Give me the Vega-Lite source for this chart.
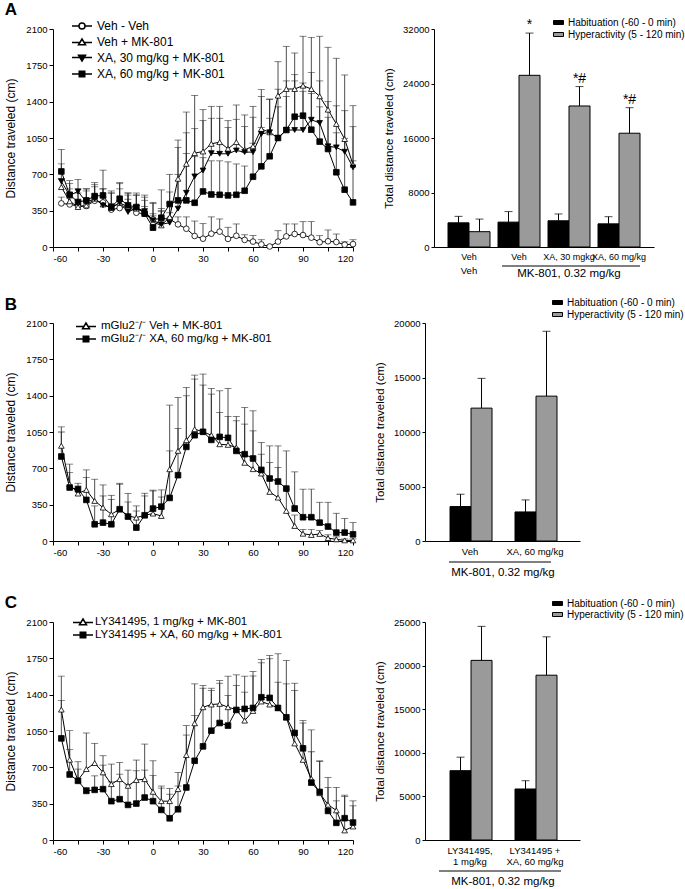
{
 "$schema": "https://vega.github.io/schema/vega-lite/v6.json",
 "background": "white",
 "padding": {"left": 4, "top": 1, "right": 0, "bottom": 0},
 "spacing": 16,
 "resolve": {"scale": {"shape": "independent", "fill": "independent"}},
 "config": {
  "view": {"stroke": null},
  "font": "Liberation Sans",
  "axis": {"domainColor": "black", "tickColor": "black", "labelColor": "black", "titleColor": "black", "labelFontSize": 9.5, "titleFontSize": 12, "titleFontWeight": "normal", "grid": false, "tickSize": 4, "labelPadding": 2, "domainWidth": 1, "tickWidth": 1, "format": "d"},
  "legend": {"labelColor": "black", "labelFont": "Liberation Sans", "labelLimit": 300},
  "title": {"color": "black"}
 },
 "datasets": {
  "lineA": [
   {"s":"Veh - Veh","t":-55,"v":420,"e":480},{"s":"Veh - Veh","t":-50,"v":410,"e":470},{"s":"Veh - Veh","t":-45,"v":395,"e":450},{"s":"Veh - Veh","t":-40,"v":395,"e":450},{"s":"Veh - Veh","t":-35,"v":445,"e":510},{"s":"Veh - Veh","t":-30,"v":430,"e":480},{"s":"Veh - Veh","t":-25,"v":360,"e":420},{"s":"Veh - Veh","t":-20,"v":375,"e":440},{"s":"Veh - Veh","t":-15,"v":395,"e":460},{"s":"Veh - Veh","t":-10,"v":330,"e":400},{"s":"Veh - Veh","t":-5,"v":320,"e":390},{"s":"Veh - Veh","t":0,"v":265,"e":320},{"s":"Veh - Veh","t":5,"v":275,"e":340},{"s":"Veh - Veh","t":10,"v":270,"e":330},{"s":"Veh - Veh","t":15,"v":218,"e":290},{"s":"Veh - Veh","t":20,"v":176,"e":290},{"s":"Veh - Veh","t":25,"v":106,"e":250},{"s":"Veh - Veh","t":30,"v":80,"e":225},{"s":"Veh - Veh","t":35,"v":128,"e":290},{"s":"Veh - Veh","t":40,"v":148,"e":270},{"s":"Veh - Veh","t":45,"v":78,"e":190},{"s":"Veh - Veh","t":50,"v":108,"e":222},{"s":"Veh - Veh","t":55,"v":68,"e":118},{"s":"Veh - Veh","t":60,"v":52,"e":110},{"s":"Veh - Veh","t":65,"v":25,"e":70},{"s":"Veh - Veh","t":70,"v":5,"e":10},{"s":"Veh - Veh","t":75,"v":52,"e":157},{"s":"Veh - Veh","t":80,"v":102,"e":222},{"s":"Veh - Veh","t":85,"v":125,"e":222},{"s":"Veh - Veh","t":90,"v":115,"e":244},{"s":"Veh - Veh","t":95,"v":90,"e":244},{"s":"Veh - Veh","t":100,"v":46,"e":109},{"s":"Veh - Veh","t":105,"v":55,"e":164},{"s":"Veh - Veh","t":110,"v":48,"e":125},{"s":"Veh - Veh","t":115,"v":22,"e":50},{"s":"Veh - Veh","t":120,"v":28,"e":70},
   {"s":"Veh + MK-801","t":-55,"v":577,"e":660},{"s":"Veh + MK-801","t":-50,"v":440,"e":560},{"s":"Veh + MK-801","t":-45,"v":385,"e":520},{"s":"Veh + MK-801","t":-40,"v":400,"e":540},{"s":"Veh + MK-801","t":-35,"v":465,"e":600},{"s":"Veh + MK-801","t":-30,"v":410,"e":560},{"s":"Veh + MK-801","t":-25,"v":375,"e":540},{"s":"Veh + MK-801","t":-20,"v":426,"e":560},{"s":"Veh + MK-801","t":-15,"v":385,"e":520},{"s":"Veh + MK-801","t":-10,"v":369,"e":500},{"s":"Veh + MK-801","t":-5,"v":337,"e":480},{"s":"Veh + MK-801","t":0,"v":240,"e":420},{"s":"Veh + MK-801","t":5,"v":208,"e":350},{"s":"Veh + MK-801","t":10,"v":289,"e":530},{"s":"Veh + MK-801","t":15,"v":657,"e":1030},{"s":"Veh + MK-801","t":20,"v":801,"e":1300},{"s":"Veh + MK-801","t":25,"v":904,"e":1460},{"s":"Veh + MK-801","t":30,"v":920,"e":1323},{"s":"Veh + MK-801","t":35,"v":994,"e":1355},{"s":"Veh + MK-801","t":40,"v":1010,"e":1355},{"s":"Veh + MK-801","t":45,"v":946,"e":1217},{"s":"Veh + MK-801","t":50,"v":1010,"e":1368},{"s":"Veh + MK-801","t":55,"v":936,"e":1272},{"s":"Veh + MK-801","t":60,"v":970,"e":1355},{"s":"Veh + MK-801","t":65,"v":1137,"e":1516},{"s":"Veh + MK-801","t":70,"v":1105,"e":1426},{"s":"Veh + MK-801","t":75,"v":1458,"e":1785},{"s":"Veh + MK-801","t":80,"v":1522,"e":1933},{"s":"Veh + MK-801","t":85,"v":1522,"e":1869},{"s":"Veh + MK-801","t":90,"v":1554,"e":2030},{"s":"Veh + MK-801","t":95,"v":1522,"e":2020},{"s":"Veh + MK-801","t":100,"v":1452,"e":2030},{"s":"Veh + MK-801","t":105,"v":1323,"e":1924},{"s":"Veh + MK-801","t":110,"v":1185,"e":1818},{"s":"Veh + MK-801","t":115,"v":1040,"e":1657},{"s":"Veh + MK-801","t":120,"v":793,"e":1361},
   {"s":"XA, 30 mg/kg + MK-801","t":-55,"v":632,"e":800},{"s":"XA, 30 mg/kg + MK-801","t":-50,"v":497,"e":610},{"s":"XA, 30 mg/kg + MK-801","t":-45,"v":535,"e":650},{"s":"XA, 30 mg/kg + MK-801","t":-40,"v":433,"e":560},{"s":"XA, 30 mg/kg + MK-801","t":-35,"v":465,"e":580},{"s":"XA, 30 mg/kg + MK-801","t":-30,"v":401,"e":560},{"s":"XA, 30 mg/kg + MK-801","t":-25,"v":382,"e":520},{"s":"XA, 30 mg/kg + MK-801","t":-20,"v":426,"e":610},{"s":"XA, 30 mg/kg + MK-801","t":-15,"v":337,"e":500},{"s":"XA, 30 mg/kg + MK-801","t":-10,"v":375,"e":520},{"s":"XA, 30 mg/kg + MK-801","t":-5,"v":346,"e":500},{"s":"XA, 30 mg/kg + MK-801","t":0,"v":256,"e":430},{"s":"XA, 30 mg/kg + MK-801","t":5,"v":218,"e":370},{"s":"XA, 30 mg/kg + MK-801","t":10,"v":234,"e":420},{"s":"XA, 30 mg/kg + MK-801","t":15,"v":369,"e":700},{"s":"XA, 30 mg/kg + MK-801","t":20,"v":522,"e":900},{"s":"XA, 30 mg/kg + MK-801","t":25,"v":680,"e":1140},{"s":"XA, 30 mg/kg + MK-801","t":30,"v":737,"e":1217},{"s":"XA, 30 mg/kg + MK-801","t":35,"v":904,"e":1240},{"s":"XA, 30 mg/kg + MK-801","t":40,"v":898,"e":1240},{"s":"XA, 30 mg/kg + MK-801","t":45,"v":898,"e":1150},{"s":"XA, 30 mg/kg + MK-801","t":50,"v":930,"e":1230},{"s":"XA, 30 mg/kg + MK-801","t":55,"v":914,"e":1160},{"s":"XA, 30 mg/kg + MK-801","t":60,"v":914,"e":1250},{"s":"XA, 30 mg/kg + MK-801","t":65,"v":1089,"e":1450},{"s":"XA, 30 mg/kg + MK-801","t":70,"v":1105,"e":1420},{"s":"XA, 30 mg/kg + MK-801","t":75,"v":1050,"e":1520},{"s":"XA, 30 mg/kg + MK-801","t":80,"v":1127,"e":1600},{"s":"XA, 30 mg/kg + MK-801","t":85,"v":1127,"e":1660},{"s":"XA, 30 mg/kg + MK-801","t":90,"v":1127,"e":1580},{"s":"XA, 30 mg/kg + MK-801","t":95,"v":1226,"e":1680},{"s":"XA, 30 mg/kg + MK-801","t":100,"v":1195,"e":1600},{"s":"XA, 30 mg/kg + MK-801","t":105,"v":970,"e":1400},{"s":"XA, 30 mg/kg + MK-801","t":110,"v":960,"e":1360},{"s":"XA, 30 mg/kg + MK-801","t":115,"v":918,"e":1313},{"s":"XA, 30 mg/kg + MK-801","t":120,"v":767,"e":1159},
   {"s":"XA, 60 mg/kg + MK-801","t":-55,"v":728,"e":940},{"s":"XA, 60 mg/kg + MK-801","t":-50,"v":503,"e":640},{"s":"XA, 60 mg/kg + MK-801","t":-45,"v":433,"e":560},{"s":"XA, 60 mg/kg + MK-801","t":-40,"v":449,"e":560},{"s":"XA, 60 mg/kg + MK-801","t":-35,"v":490,"e":620},{"s":"XA, 60 mg/kg + MK-801","t":-30,"v":497,"e":740},{"s":"XA, 60 mg/kg + MK-801","t":-25,"v":385,"e":520},{"s":"XA, 60 mg/kg + MK-801","t":-20,"v":465,"e":620},{"s":"XA, 60 mg/kg + MK-801","t":-15,"v":401,"e":520},{"s":"XA, 60 mg/kg + MK-801","t":-10,"v":385,"e":500},{"s":"XA, 60 mg/kg + MK-801","t":-5,"v":321,"e":450},{"s":"XA, 60 mg/kg + MK-801","t":0,"v":186,"e":300},{"s":"XA, 60 mg/kg + MK-801","t":5,"v":282,"e":550},{"s":"XA, 60 mg/kg + MK-801","t":10,"v":414,"e":700},{"s":"XA, 60 mg/kg + MK-801","t":15,"v":449,"e":960},{"s":"XA, 60 mg/kg + MK-801","t":20,"v":449,"e":1100},{"s":"XA, 60 mg/kg + MK-801","t":25,"v":426,"e":870},{"s":"XA, 60 mg/kg + MK-801","t":30,"v":535,"e":860},{"s":"XA, 60 mg/kg + MK-801","t":35,"v":506,"e":830},{"s":"XA, 60 mg/kg + MK-801","t":40,"v":503,"e":830},{"s":"XA, 60 mg/kg + MK-801","t":45,"v":497,"e":820},{"s":"XA, 60 mg/kg + MK-801","t":50,"v":503,"e":800},{"s":"XA, 60 mg/kg + MK-801","t":55,"v":542,"e":780},{"s":"XA, 60 mg/kg + MK-801","t":60,"v":677,"e":1000},{"s":"XA, 60 mg/kg + MK-801","t":65,"v":777,"e":1150},{"s":"XA, 60 mg/kg + MK-801","t":70,"v":874,"e":1240},{"s":"XA, 60 mg/kg + MK-801","t":75,"v":1050,"e":1350},{"s":"XA, 60 mg/kg + MK-801","t":80,"v":1127,"e":1450},{"s":"XA, 60 mg/kg + MK-801","t":85,"v":1255,"e":1600},{"s":"XA, 60 mg/kg + MK-801","t":90,"v":1265,"e":1500},{"s":"XA, 60 mg/kg + MK-801","t":95,"v":1130,"e":1480},{"s":"XA, 60 mg/kg + MK-801","t":100,"v":1015,"e":1350},{"s":"XA, 60 mg/kg + MK-801","t":105,"v":944,"e":1250},{"s":"XA, 60 mg/kg + MK-801","t":110,"v":720,"e":1100},{"s":"XA, 60 mg/kg + MK-801","t":115,"v":552,"e":1047},{"s":"XA, 60 mg/kg + MK-801","t":120,"v":430,"e":830}
  ],
  "lineB": [
   {"s":"mGlu2⁻/⁻ Veh + MK-801","t":-55,"v":917,"e":1100},{"s":"mGlu2⁻/⁻ Veh + MK-801","t":-50,"v":547,"e":740},{"s":"mGlu2⁻/⁻ Veh + MK-801","t":-45,"v":457,"e":556},{"s":"mGlu2⁻/⁻ Veh + MK-801","t":-40,"v":492,"e":685},{"s":"mGlu2⁻/⁻ Veh + MK-801","t":-35,"v":386,"e":595},{"s":"mGlu2⁻/⁻ Veh + MK-801","t":-30,"v":322,"e":540},{"s":"mGlu2⁻/⁻ Veh + MK-801","t":-25,"v":257,"e":440},{"s":"mGlu2⁻/⁻ Veh + MK-801","t":-20,"v":306,"e":556},{"s":"mGlu2⁻/⁻ Veh + MK-801","t":-15,"v":241,"e":457},{"s":"mGlu2⁻/⁻ Veh + MK-801","t":-10,"v":225,"e":338},{"s":"mGlu2⁻/⁻ Veh + MK-801","t":-5,"v":248,"e":460},{"s":"mGlu2⁻/⁻ Veh + MK-801","t":0,"v":264,"e":482},{"s":"mGlu2⁻/⁻ Veh + MK-801","t":5,"v":241,"e":492},{"s":"mGlu2⁻/⁻ Veh + MK-801","t":10,"v":691,"e":1309},{"s":"mGlu2⁻/⁻ Veh + MK-801","t":15,"v":868,"e":1383},{"s":"mGlu2⁻/⁻ Veh + MK-801","t":20,"v":971,"e":1479},{"s":"mGlu2⁻/⁻ Veh + MK-801","t":25,"v":1077,"e":1598},{"s":"mGlu2⁻/⁻ Veh + MK-801","t":30,"v":1052,"e":1502},{"s":"mGlu2⁻/⁻ Veh + MK-801","t":35,"v":1019,"e":1415},{"s":"mGlu2⁻/⁻ Veh + MK-801","t":40,"v":932,"e":1238},{"s":"mGlu2⁻/⁻ Veh + MK-801","t":45,"v":926,"e":1200},{"s":"mGlu2⁻/⁻ Veh + MK-801","t":50,"v":900,"e":1200},{"s":"mGlu2⁻/⁻ Veh + MK-801","t":55,"v":753,"e":1126},{"s":"mGlu2⁻/⁻ Veh + MK-801","t":60,"v":692,"e":1061},{"s":"mGlu2⁻/⁻ Veh + MK-801","t":65,"v":650,"e":836},{"s":"mGlu2⁻/⁻ Veh + MK-801","t":70,"v":473,"e":756},{"s":"mGlu2⁻/⁻ Veh + MK-801","t":75,"v":418,"e":708},{"s":"mGlu2⁻/⁻ Veh + MK-801","t":80,"v":290,"e":500},{"s":"mGlu2⁻/⁻ Veh + MK-801","t":85,"v":145,"e":250},{"s":"mGlu2⁻/⁻ Veh + MK-801","t":90,"v":70,"e":112},{"s":"mGlu2⁻/⁻ Veh + MK-801","t":95,"v":58,"e":112},{"s":"mGlu2⁻/⁻ Veh + MK-801","t":100,"v":68,"e":100},{"s":"mGlu2⁻/⁻ Veh + MK-801","t":105,"v":28,"e":60},{"s":"mGlu2⁻/⁻ Veh + MK-801","t":110,"v":16,"e":40},{"s":"mGlu2⁻/⁻ Veh + MK-801","t":115,"v":6,"e":20},{"s":"mGlu2⁻/⁻ Veh + MK-801","t":120,"v":6,"e":20},
   {"s":"mGlu2⁻/⁻ XA, 60 mg/kg + MK-801","t":-55,"v":814,"e":1050},{"s":"mGlu2⁻/⁻ XA, 60 mg/kg + MK-801","t":-50,"v":515,"e":659},{"s":"mGlu2⁻/⁻ XA, 60 mg/kg + MK-801","t":-45,"v":498,"e":530},{"s":"mGlu2⁻/⁻ XA, 60 mg/kg + MK-801","t":-40,"v":396,"e":611},{"s":"mGlu2⁻/⁻ XA, 60 mg/kg + MK-801","t":-35,"v":161,"e":338},{"s":"mGlu2⁻/⁻ XA, 60 mg/kg + MK-801","t":-30,"v":177,"e":434},{"s":"mGlu2⁻/⁻ XA, 60 mg/kg + MK-801","t":-25,"v":161,"e":400},{"s":"mGlu2⁻/⁻ XA, 60 mg/kg + MK-801","t":-20,"v":306,"e":547},{"s":"mGlu2⁻/⁻ XA, 60 mg/kg + MK-801","t":-15,"v":235,"e":376},{"s":"mGlu2⁻/⁻ XA, 60 mg/kg + MK-801","t":-10,"v":129,"e":289},{"s":"mGlu2⁻/⁻ XA, 60 mg/kg + MK-801","t":-5,"v":248,"e":434},{"s":"mGlu2⁻/⁻ XA, 60 mg/kg + MK-801","t":0,"v":312,"e":490},{"s":"mGlu2⁻/⁻ XA, 60 mg/kg + MK-801","t":5,"v":331,"e":424},{"s":"mGlu2⁻/⁻ XA, 60 mg/kg + MK-801","t":10,"v":415,"e":868},{"s":"mGlu2⁻/⁻ XA, 60 mg/kg + MK-801","t":15,"v":634,"e":1084},{"s":"mGlu2⁻/⁻ XA, 60 mg/kg + MK-801","t":20,"v":907,"e":1399},{"s":"mGlu2⁻/⁻ XA, 60 mg/kg + MK-801","t":25,"v":1019,"e":1560},{"s":"mGlu2⁻/⁻ XA, 60 mg/kg + MK-801","t":30,"v":1052,"e":1608},{"s":"mGlu2⁻/⁻ XA, 60 mg/kg + MK-801","t":35,"v":974,"e":1470},{"s":"mGlu2⁻/⁻ XA, 60 mg/kg + MK-801","t":40,"v":1003,"e":1447},{"s":"mGlu2⁻/⁻ XA, 60 mg/kg + MK-801","t":45,"v":994,"e":1470},{"s":"mGlu2⁻/⁻ XA, 60 mg/kg + MK-801","t":50,"v":868,"e":1158},{"s":"mGlu2⁻/⁻ XA, 60 mg/kg + MK-801","t":55,"v":836,"e":1287},{"s":"mGlu2⁻/⁻ XA, 60 mg/kg + MK-801","t":60,"v":795,"e":1254},{"s":"mGlu2⁻/⁻ XA, 60 mg/kg + MK-801","t":65,"v":685,"e":949},{"s":"mGlu2⁻/⁻ XA, 60 mg/kg + MK-801","t":70,"v":602,"e":916},{"s":"mGlu2⁻/⁻ XA, 60 mg/kg + MK-801","t":75,"v":573,"e":916},{"s":"mGlu2⁻/⁻ XA, 60 mg/kg + MK-801","t":80,"v":505,"e":868},{"s":"mGlu2⁻/⁻ XA, 60 mg/kg + MK-801","t":85,"v":313,"e":666},{"s":"mGlu2⁻/⁻ XA, 60 mg/kg + MK-801","t":90,"v":229,"e":499},{"s":"mGlu2⁻/⁻ XA, 60 mg/kg + MK-801","t":95,"v":229,"e":499},{"s":"mGlu2⁻/⁻ XA, 60 mg/kg + MK-801","t":100,"v":177,"e":373},{"s":"mGlu2⁻/⁻ XA, 60 mg/kg + MK-801","t":105,"v":139,"e":373},{"s":"mGlu2⁻/⁻ XA, 60 mg/kg + MK-801","t":110,"v":81,"e":267},{"s":"mGlu2⁻/⁻ XA, 60 mg/kg + MK-801","t":115,"v":81,"e":216},{"s":"mGlu2⁻/⁻ XA, 60 mg/kg + MK-801","t":120,"v":64,"e":177}
  ],
  "lineC": [
   {"s":"LY341495, 1 mg/kg + MK-801","t":-55,"v":1256,"e":1578},{"s":"LY341495, 1 mg/kg + MK-801","t":-50,"v":773,"e":1053},{"s":"LY341495, 1 mg/kg + MK-801","t":-45,"v":577,"e":754},{"s":"LY341495, 1 mg/kg + MK-801","t":-40,"v":683,"e":1031},{"s":"LY341495, 1 mg/kg + MK-801","t":-35,"v":741,"e":931},{"s":"LY341495, 1 mg/kg + MK-801","t":-30,"v":651,"e":812},{"s":"LY341495, 1 mg/kg + MK-801","t":-25,"v":538,"e":731},{"s":"LY341495, 1 mg/kg + MK-801","t":-20,"v":586,"e":747},{"s":"LY341495, 1 mg/kg + MK-801","t":-15,"v":522,"e":673},{"s":"LY341495, 1 mg/kg + MK-801","t":-10,"v":577,"e":770},{"s":"LY341495, 1 mg/kg + MK-801","t":-5,"v":586,"e":924},{"s":"LY341495, 1 mg/kg + MK-801","t":0,"v":464,"e":763},{"s":"LY341495, 1 mg/kg + MK-801","t":5,"v":374,"e":520},{"s":"LY341495, 1 mg/kg + MK-801","t":10,"v":374,"e":441},{"s":"LY341495, 1 mg/kg + MK-801","t":15,"v":490,"e":651},{"s":"LY341495, 1 mg/kg + MK-801","t":20,"v":818,"e":1102},{"s":"LY341495, 1 mg/kg + MK-801","t":25,"v":1124,"e":1504},{"s":"LY341495, 1 mg/kg + MK-801","t":30,"v":1279,"e":1488},{"s":"LY341495, 1 mg/kg + MK-801","t":35,"v":1305,"e":1462},{"s":"LY341495, 1 mg/kg + MK-801","t":40,"v":1311,"e":1536},{"s":"LY341495, 1 mg/kg + MK-801","t":45,"v":1279,"e":1578},{"s":"LY341495, 1 mg/kg + MK-801","t":50,"v":1256,"e":1591},{"s":"LY341495, 1 mg/kg + MK-801","t":55,"v":1150,"e":1578},{"s":"LY341495, 1 mg/kg + MK-801","t":60,"v":1243,"e":1623},{"s":"LY341495, 1 mg/kg + MK-801","t":65,"v":1334,"e":1739},{"s":"LY341495, 1 mg/kg + MK-801","t":70,"v":1305,"e":1778},{"s":"LY341495, 1 mg/kg + MK-801","t":75,"v":1272,"e":1794},{"s":"LY341495, 1 mg/kg + MK-801","t":80,"v":1182,"e":1730},{"s":"LY341495, 1 mg/kg + MK-801","t":85,"v":930,"e":1510},{"s":"LY341495, 1 mg/kg + MK-801","t":90,"v":772,"e":1150},{"s":"LY341495, 1 mg/kg + MK-801","t":95,"v":590,"e":850},{"s":"LY341495, 1 mg/kg + MK-801","t":100,"v":451,"e":757},{"s":"LY341495, 1 mg/kg + MK-801","t":105,"v":340,"e":602},{"s":"LY341495, 1 mg/kg + MK-801","t":110,"v":285,"e":506},{"s":"LY341495, 1 mg/kg + MK-801","t":115,"v":92,"e":432},{"s":"LY341495, 1 mg/kg + MK-801","t":120,"v":130,"e":329},
   {"s":"LY341495 + XA, 60 mg/kg + MK-801","t":-55,"v":979,"e":1343},{"s":"LY341495 + XA, 60 mg/kg + MK-801","t":-50,"v":631,"e":870},{"s":"LY341495 + XA, 60 mg/kg + MK-801","t":-45,"v":570,"e":683},{"s":"LY341495 + XA, 60 mg/kg + MK-801","t":-40,"v":473,"e":506},{"s":"LY341495 + XA, 60 mg/kg + MK-801","t":-35,"v":483,"e":618},{"s":"LY341495 + XA, 60 mg/kg + MK-801","t":-30,"v":490,"e":721},{"s":"LY341495 + XA, 60 mg/kg + MK-801","t":-25,"v":374,"e":560},{"s":"LY341495 + XA, 60 mg/kg + MK-801","t":-20,"v":393,"e":634},{"s":"LY341495 + XA, 60 mg/kg + MK-801","t":-15,"v":338,"e":530},{"s":"LY341495 + XA, 60 mg/kg + MK-801","t":-10,"v":351,"e":667},{"s":"LY341495 + XA, 60 mg/kg + MK-801","t":-5,"v":409,"e":673},{"s":"LY341495 + XA, 60 mg/kg + MK-801","t":0,"v":374,"e":620},{"s":"LY341495 + XA, 60 mg/kg + MK-801","t":5,"v":290,"e":500},{"s":"LY341495 + XA, 60 mg/kg + MK-801","t":10,"v":209,"e":496},{"s":"LY341495 + XA, 60 mg/kg + MK-801","t":15,"v":296,"e":520},{"s":"LY341495 + XA, 60 mg/kg + MK-801","t":20,"v":506,"e":1011},{"s":"LY341495 + XA, 60 mg/kg + MK-801","t":25,"v":763,"e":1200},{"s":"LY341495 + XA, 60 mg/kg + MK-801","t":30,"v":902,"e":1462},{"s":"LY341495 + XA, 60 mg/kg + MK-801","t":35,"v":1053,"e":1440},{"s":"LY341495 + XA, 60 mg/kg + MK-801","t":40,"v":1127,"e":1510},{"s":"LY341495 + XA, 60 mg/kg + MK-801","t":45,"v":1102,"e":1391},{"s":"LY341495 + XA, 60 mg/kg + MK-801","t":50,"v":1253,"e":1488},{"s":"LY341495 + XA, 60 mg/kg + MK-801","t":55,"v":1263,"e":1424},{"s":"LY341495 + XA, 60 mg/kg + MK-801","t":60,"v":1272,"e":1580},{"s":"LY341495 + XA, 60 mg/kg + MK-801","t":65,"v":1375,"e":1707},{"s":"LY341495 + XA, 60 mg/kg + MK-801","t":70,"v":1369,"e":1746},{"s":"LY341495 + XA, 60 mg/kg + MK-801","t":75,"v":1272,"e":1520},{"s":"LY341495 + XA, 60 mg/kg + MK-801","t":80,"v":1182,"e":1504},{"s":"LY341495 + XA, 60 mg/kg + MK-801","t":85,"v":1031,"e":1440},{"s":"LY341495 + XA, 60 mg/kg + MK-801","t":90,"v":883,"e":1127},{"s":"LY341495 + XA, 60 mg/kg + MK-801","t":95,"v":553,"e":1060},{"s":"LY341495 + XA, 60 mg/kg + MK-801","t":100,"v":463,"e":763},{"s":"LY341495 + XA, 60 mg/kg + MK-801","t":105,"v":280,"e":506},{"s":"LY341495 + XA, 60 mg/kg + MK-801","t":110,"v":165,"e":377},{"s":"LY341495 + XA, 60 mg/kg + MK-801","t":115,"v":210,"e":420},{"s":"LY341495 + XA, 60 mg/kg + MK-801","t":120,"v":168,"e":377}
  ],
  "barA": [
   {"g":"g1","p":"Habituation (-60 - 0 min)","v":3550,"e":4500,"sig":""},{"g":"g1","p":"Hyperactivity (5 - 120 min)","v":2250,"e":4100,"sig":""},
   {"g":"g2","p":"Habituation (-60 - 0 min)","v":3650,"e":5200,"sig":""},{"g":"g2","p":"Hyperactivity (5 - 120 min)","v":25200,"e":31400,"sig":"*"},
   {"g":"g3","p":"Habituation (-60 - 0 min)","v":3850,"e":4850,"sig":""},{"g":"g3","p":"Hyperactivity (5 - 120 min)","v":20700,"e":23550,"sig":"*#"},
   {"g":"g4","p":"Habituation (-60 - 0 min)","v":3400,"e":4450,"sig":""},{"g":"g4","p":"Hyperactivity (5 - 120 min)","v":16700,"e":20450,"sig":"*#"}
  ],
  "barB": [
   {"g":"g1","p":"Habituation (-60 - 0 min)","v":3160,"e":4290},{"g":"g1","p":"Hyperactivity (5 - 120 min)","v":12190,"e":14920},
   {"g":"g2","p":"Habituation (-60 - 0 min)","v":2665,"e":3770},{"g":"g2","p":"Hyperactivity (5 - 120 min)","v":13290,"e":19240}
  ],
  "barC": [
   {"g":"g1","p":"Habituation (-60 - 0 min)","v":7950,"e":9500},{"g":"g1","p":"Hyperactivity (5 - 120 min)","v":20600,"e":24500},
   {"g":"g2","p":"Habituation (-60 - 0 min)","v":5850,"e":6800},{"g":"g2","p":"Hyperactivity (5 - 120 min)","v":18900,"e":23300}
  ],
  "labA2": [{"g":"g1","txt":"Veh"}],
  "labA3": [{"g":"g3","txt":"MK-801, 0.32 mg/kg"}],
  "lineSpanA": [{"g":"g2","g2":"g4"}],
  "lineSpanBC": [{"g":"g1","g2":"g2"}]
 },
 "vconcat": [
  {
   "spacing": 25,
   "resolve": {"scale": {"shape": "independent", "fill": "independent"}},
   "hconcat": [
    {
     "width": 300, "height": 218,
     "title": {"text": "A", "anchor": "start", "frame": "bounds", "fontSize": 17, "fontWeight": "bold", "offset": 1},
     "data": {"name": "lineA"},
     "resolve": {"scale": {"shape": "independent", "fill": "independent"}},
     "encoding": {
      "x": {"field": "t", "type": "quantitative", "scale": {"domain": [-60, 120], "nice": false}, "axis": {"values": [-60,-45,-30,-15,0,15,30,45,60,75,90,105,120], "labelExpr": "datum.value % 30 == 0 ? '' + datum.value : ''", "title": null}},
      "y": {"field": "v", "type": "quantitative", "scale": {"domain": [0, 2100], "nice": false}, "axis": {"values": [0,350,700,1050,1400,1750,2100], "title": "Distance traveled (cm)", "titlePadding": 8}}
     },
     "layer": [
      {"mark": {"type": "rule", "color": "#222", "strokeWidth": 0.8}, "encoding": {"y2": {"field": "e"}}},
      {"mark": {"type": "tick", "orient": "horizontal", "size": 7, "thickness": 0.8, "color": "#222"}, "encoding": {"y": {"field": "e", "type": "quantitative"}}},
      {"mark": {"type": "line", "color": "black", "strokeWidth": 1}, "encoding": {"detail": {"field": "s"}}},
      {"mark": {"type": "point", "filled": true, "stroke": "black", "strokeWidth": 0.8, "opacity": 1, "size": 32},
       "encoding": {
        "shape": {"field": "s", "type": "nominal", "scale": {"domain": ["Veh - Veh","Veh + MK-801","XA, 30 mg/kg + MK-801","XA, 60 mg/kg + MK-801"], "range": ["circle","triangle-up","triangle-down","square"]}, "legend": null},
        "fill": {"field": "s", "type": "nominal", "scale": {"domain": ["Veh - Veh","Veh + MK-801","XA, 30 mg/kg + MK-801","XA, 60 mg/kg + MK-801"], "range": ["white","white","black","black"]}, "legend": null}
       }},
      {"transform": [{"filter": "false"}], "mark": {"type": "point", "filled": true, "stroke": "black", "strokeWidth": 0.8, "opacity": 1},
       "encoding": {
        "shape": {"field": "s", "type": "nominal", "scale": {"domain": ["Veh - Veh","Veh + MK-801","XA, 30 mg/kg + MK-801","XA, 60 mg/kg + MK-801"], "range": ["M-2,0L-0.6,0M0.6,0L2,0M-0.6,0A0.6,0.6 0 1,1 0.6,0A0.6,0.6 0 1,1 -0.6,0Z","M-2,0.1L-0.45,0.1M0.45,0.1L2,0.1M0,-0.6L0.7,0.55L-0.7,0.55Z","M-2,-0.1L-0.45,-0.1M0.45,-0.1L2,-0.1M0,0.6L0.7,-0.55L-0.7,-0.55Z","M-2,0L-0.55,0M0.55,0L2,0M-0.55,-0.55L0.55,-0.55L0.55,0.55L-0.55,0.55Z"]}, "legend": {"title": null, "orient": "none", "legendX": 23, "legendY": -9, "labelFontSize": 12, "symbolSize": 100, "rowPadding": 4, "labelOffset": 9, "encode": {"symbols": {"update": {"stroke": {"value": "black"}, "strokeWidth": {"value": 0.8}, "opacity": {"value": 1}}}}}},
        "fill": {"field": "s", "type": "nominal", "scale": {"domain": ["Veh - Veh","Veh + MK-801","XA, 30 mg/kg + MK-801","XA, 60 mg/kg + MK-801"], "range": ["white","white","black","black"]}, "legend": {"title": null, "orient": "none", "legendX": 23, "legendY": -9, "labelFontSize": 12, "symbolSize": 100, "rowPadding": 4, "labelOffset": 9, "encode": {"symbols": {"update": {"stroke": {"value": "black"}, "strokeWidth": {"value": 0.8}, "opacity": {"value": 1}}}}}}
       }}
     ]
    },
    {
     "width": 220, "height": 218,
     "layer": [
      {"data": {"name": "barA"}, "mark": {"type": "bar", "stroke": "black", "strokeWidth": 1},
       "encoding": {
        "x": {"field": "g", "type": "nominal", "scale": {"domain": ["g1","g2","g3","g4"], "paddingInner": 0.16, "paddingOuter": 0.28}, "axis": {"title": null, "ticks": false, "labelAngle": 0, "labelPadding": 5, "labelFontSize": 9, "labelOverlap": false, "labelExpr": "datum.value == 'g1' ? 'Veh' : datum.value == 'g2' ? 'Veh' : datum.value == 'g3' ? 'XA, 30 mgkg' : 'XA, 60 mg/kg'"}},
        "xOffset": {"field": "p", "type": "nominal", "scale": {"paddingInner": 0, "paddingOuter": 0}},
        "y": {"field": "v", "type": "quantitative", "scale": {"domain": [0, 32000], "nice": false}, "axis": {"values": [0,8000,16000,24000,32000], "title": "Total distance traveled (cm)", "titleFontSize": 11.5, "titlePadding": 8, "tickSize": 3}},
        "fill": {"field": "p", "type": "nominal", "scale": {"range": ["black", "#9a9a9a"]}, "legend": {"title": null, "orient": "none", "legendX": 119, "legendY": -12, "labelFontSize": 10, "symbolType": "M-1,-0.4L1,-0.4L1,0.4L-1,0.4Z", "symbolSize": 100, "symbolStrokeColor": "black", "symbolStrokeWidth": 1, "rowPadding": 1, "labelOffset": 4}}
       }},
      {"data": {"name": "barA"}, "mark": {"type": "rule", "color": "black", "strokeWidth": 1},
       "encoding": {"x": {"field": "g", "type": "nominal"}, "xOffset": {"field": "p", "type": "nominal"}, "y": {"field": "v", "type": "quantitative"}, "y2": {"field": "e"}}},
      {"data": {"name": "barA"}, "mark": {"type": "tick", "orient": "horizontal", "size": 8, "thickness": 1, "color": "black"},
       "encoding": {"x": {"field": "g", "type": "nominal"}, "xOffset": {"field": "p", "type": "nominal"}, "y": {"field": "e", "type": "quantitative"}}},
      {"data": {"name": "barA"}, "mark": {"type": "text", "dy": -8, "fontSize": 14, "color": "black"},
       "encoding": {"x": {"field": "g", "type": "nominal"}, "xOffset": {"field": "p", "type": "nominal"}, "y": {"field": "e", "type": "quantitative"}, "text": {"field": "sig"}}},
      {"data": {"name": "labA2"}, "mark": {"type": "text", "dy": 24, "fontSize": 9.5, "color": "black", "baseline": "middle"},
       "encoding": {"x": {"field": "g", "type": "nominal"}, "y": {"datum": 0}, "text": {"field": "txt"}}},
      {"data": {"name": "labA3"}, "mark": {"type": "text", "dy": 27, "fontSize": 11.5, "color": "black", "baseline": "middle"},
       "encoding": {"x": {"field": "g", "type": "nominal"}, "y": {"datum": 0}, "text": {"field": "txt"}}},
      {"data": {"name": "lineSpanA"}, "mark": {"type": "rule", "color": "black", "strokeWidth": 1, "yOffset": 19, "xOffset": -17, "x2Offset": 21},
       "encoding": {"x": {"field": "g", "type": "nominal"}, "x2": {"field": "g2"}, "y": {"datum": 0}}}
     ]
    }
   ]
  },
  {
   "spacing": 16,
   "resolve": {"scale": {"shape": "independent", "fill": "independent"}},
   "hconcat": [
    {
     "width": 300, "height": 218,
     "title": {"text": "B", "anchor": "start", "frame": "bounds", "fontSize": 17, "fontWeight": "bold", "offset": 4},
     "data": {"name": "lineB"},
     "resolve": {"scale": {"shape": "independent", "fill": "independent"}},
     "encoding": {
      "x": {"field": "t", "type": "quantitative", "scale": {"domain": [-60, 120], "nice": false}, "axis": {"values": [-60,-45,-30,-15,0,15,30,45,60,75,90,105,120], "labelExpr": "datum.value % 30 == 0 ? '' + datum.value : ''", "title": null}},
      "y": {"field": "v", "type": "quantitative", "scale": {"domain": [0, 2100], "nice": false}, "axis": {"values": [0,350,700,1050,1400,1750,2100], "title": "Distance traveled (cm)", "titlePadding": 8}}
     },
     "layer": [
      {"mark": {"type": "rule", "color": "#222", "strokeWidth": 0.8}, "encoding": {"y2": {"field": "e"}}},
      {"mark": {"type": "tick", "orient": "horizontal", "size": 7, "thickness": 0.8, "color": "#222"}, "encoding": {"y": {"field": "e", "type": "quantitative"}}},
      {"mark": {"type": "line", "color": "black", "strokeWidth": 1}, "encoding": {"detail": {"field": "s"}}},
      {"mark": {"type": "point", "filled": true, "stroke": "black", "strokeWidth": 0.8, "opacity": 1, "size": 32},
       "encoding": {
        "shape": {"field": "s", "type": "nominal", "scale": {"domain": ["mGlu2⁻/⁻ Veh + MK-801","mGlu2⁻/⁻ XA, 60 mg/kg + MK-801"], "range": ["triangle-up","square"]}, "legend": null},
        "fill": {"field": "s", "type": "nominal", "scale": {"domain": ["mGlu2⁻/⁻ Veh + MK-801","mGlu2⁻/⁻ XA, 60 mg/kg + MK-801"], "range": ["white","black"]}, "legend": null}
       }},
      {"transform": [{"filter": "false"}], "mark": {"type": "point", "filled": true, "stroke": "black", "strokeWidth": 0.8, "opacity": 1},
       "encoding": {
        "shape": {"field": "s", "type": "nominal", "scale": {"domain": ["mGlu2⁻/⁻ Veh + MK-801","mGlu2⁻/⁻ XA, 60 mg/kg + MK-801"], "range": ["M-2,0.1L-0.45,0.1M0.45,0.1L2,0.1M0,-0.6L0.7,0.55L-0.7,0.55Z","M-2,0L-0.55,0M0.55,0L2,0M-0.55,-0.55L0.55,-0.55L0.55,0.55L-0.55,0.55Z"]}, "legend": {"title": null, "orient": "none", "legendX": 27, "legendY": -3, "labelFontSize": 11.5, "symbolSize": 100, "rowPadding": 1, "labelOffset": 9, "encode": {"symbols": {"update": {"stroke": {"value": "black"}, "strokeWidth": {"value": 0.8}, "opacity": {"value": 1}}}}}},
        "fill": {"field": "s", "type": "nominal", "scale": {"domain": ["mGlu2⁻/⁻ Veh + MK-801","mGlu2⁻/⁻ XA, 60 mg/kg + MK-801"], "range": ["white","black"]}, "legend": {"title": null, "orient": "none", "legendX": 27, "legendY": -3, "labelFontSize": 11.5, "symbolSize": 100, "rowPadding": 1, "labelOffset": 9, "encode": {"symbols": {"update": {"stroke": {"value": "black"}, "strokeWidth": {"value": 0.8}, "opacity": {"value": 1}}}}}}
       }}
     ]
    },
    {
     "width": 155, "height": 218,
     "layer": [
      {"data": {"name": "barB"}, "mark": {"type": "bar", "stroke": "black", "strokeWidth": 1},
       "encoding": {
        "x": {"field": "g", "type": "nominal", "scale": {"domain": ["g1","g2"], "paddingInner": 0.385, "paddingOuter": 0.385}, "axis": {"title": "MK-801, 0.32 mg/kg", "titleFontSize": 11.5, "titlePadding": 11, "ticks": false, "labelAngle": 0, "labelPadding": 5, "labelExpr": "datum.value == 'g1' ? 'Veh' : 'XA, 60 mg/kg'"}},
        "xOffset": {"field": "p", "type": "nominal", "scale": {"paddingInner": 0, "paddingOuter": 0}},
        "y": {"field": "v", "type": "quantitative", "scale": {"domain": [0, 20000], "nice": false}, "axis": {"values": [0,5000,10000,15000,20000], "title": "Total distance traveled (cm)", "titleFontSize": 11.5, "titlePadding": 8, "tickSize": 3}},
        "fill": {"field": "p", "type": "nominal", "scale": {"range": ["black", "#9a9a9a"]}, "legend": {"title": null, "orient": "none", "legendX": 127, "legendY": -26, "labelFontSize": 10, "symbolType": "M-1,-0.4L1,-0.4L1,0.4L-1,0.4Z", "symbolSize": 100, "symbolStrokeColor": "black", "symbolStrokeWidth": 1, "rowPadding": 1, "labelOffset": 4}}
       }},
      {"data": {"name": "barB"}, "mark": {"type": "rule", "color": "black", "strokeWidth": 1},
       "encoding": {"x": {"field": "g", "type": "nominal"}, "xOffset": {"field": "p", "type": "nominal"}, "y": {"field": "v", "type": "quantitative"}, "y2": {"field": "e"}}},
      {"data": {"name": "barB"}, "mark": {"type": "tick", "orient": "horizontal", "size": 8, "thickness": 1, "color": "black"},
       "encoding": {"x": {"field": "g", "type": "nominal"}, "xOffset": {"field": "p", "type": "nominal"}, "y": {"field": "e", "type": "quantitative"}}},
      {"data": {"name": "lineSpanBC"}, "mark": {"type": "rule", "color": "black", "strokeWidth": 1, "yOffset": 21, "xOffset": -21, "x2Offset": 16},
       "encoding": {"x": {"field": "g", "type": "nominal"}, "x2": {"field": "g2"}, "y": {"datum": 0}}}
     ]
    }
   ]
  },
  {
   "spacing": 16,
   "resolve": {"scale": {"shape": "independent", "fill": "independent"}},
   "hconcat": [
    {
     "width": 300, "height": 218,
     "title": {"text": "C", "anchor": "start", "frame": "bounds", "fontSize": 17, "fontWeight": "bold", "offset": 4},
     "data": {"name": "lineC"},
     "resolve": {"scale": {"shape": "independent", "fill": "independent"}},
     "encoding": {
      "x": {"field": "t", "type": "quantitative", "scale": {"domain": [-60, 120], "nice": false}, "axis": {"values": [-60,-45,-30,-15,0,15,30,45,60,75,90,105,120], "labelExpr": "datum.value % 30 == 0 ? '' + datum.value : ''", "title": null}},
      "y": {"field": "v", "type": "quantitative", "scale": {"domain": [0, 2100], "nice": false}, "axis": {"values": [0,350,700,1050,1400,1750,2100], "title": "Distance traveled (cm)", "titlePadding": 8}}
     },
     "layer": [
      {"mark": {"type": "rule", "color": "#222", "strokeWidth": 0.8}, "encoding": {"y2": {"field": "e"}}},
      {"mark": {"type": "tick", "orient": "horizontal", "size": 7, "thickness": 0.8, "color": "#222"}, "encoding": {"y": {"field": "e", "type": "quantitative"}}},
      {"mark": {"type": "line", "color": "black", "strokeWidth": 1}, "encoding": {"detail": {"field": "s"}}},
      {"mark": {"type": "point", "filled": true, "stroke": "black", "strokeWidth": 0.8, "opacity": 1, "size": 32},
       "encoding": {
        "shape": {"field": "s", "type": "nominal", "scale": {"domain": ["LY341495, 1 mg/kg + MK-801","LY341495 + XA, 60 mg/kg + MK-801"], "range": ["triangle-up","square"]}, "legend": null},
        "fill": {"field": "s", "type": "nominal", "scale": {"domain": ["LY341495, 1 mg/kg + MK-801","LY341495 + XA, 60 mg/kg + MK-801"], "range": ["white","black"]}, "legend": null}
       }},
      {"transform": [{"filter": "false"}], "mark": {"type": "point", "filled": true, "stroke": "black", "strokeWidth": 0.8, "opacity": 1},
       "encoding": {
        "shape": {"field": "s", "type": "nominal", "scale": {"domain": ["LY341495, 1 mg/kg + MK-801","LY341495 + XA, 60 mg/kg + MK-801"], "range": ["M-2,0.1L-0.45,0.1M0.45,0.1L2,0.1M0,-0.6L0.7,0.55L-0.7,0.55Z","M-2,0L-0.55,0M0.55,0L2,0M-0.55,-0.55L0.55,-0.55L0.55,0.55L-0.55,0.55Z"]}, "legend": {"title": null, "orient": "none", "legendX": 24, "legendY": -6, "labelFontSize": 11.5, "symbolSize": 100, "rowPadding": 1, "labelOffset": 6, "encode": {"symbols": {"update": {"stroke": {"value": "black"}, "strokeWidth": {"value": 0.8}, "opacity": {"value": 1}}}}}},
        "fill": {"field": "s", "type": "nominal", "scale": {"domain": ["LY341495, 1 mg/kg + MK-801","LY341495 + XA, 60 mg/kg + MK-801"], "range": ["white","black"]}, "legend": {"title": null, "orient": "none", "legendX": 24, "legendY": -6, "labelFontSize": 11.5, "symbolSize": 100, "rowPadding": 1, "labelOffset": 6, "encode": {"symbols": {"update": {"stroke": {"value": "black"}, "strokeWidth": {"value": 0.8}, "opacity": {"value": 1}}}}}}
       }}
     ]
    },
    {
     "width": 155, "height": 218,
     "layer": [
      {"data": {"name": "barC"}, "mark": {"type": "bar", "stroke": "black", "strokeWidth": 1},
       "encoding": {
        "x": {"field": "g", "type": "nominal", "scale": {"domain": ["g1","g2"], "paddingInner": 0.385, "paddingOuter": 0.385}, "axis": {"title": "MK-801, 0.32 mg/kg", "titleFontSize": 11.5, "titlePadding": 9, "ticks": false, "labelAngle": 0, "labelPadding": 5, "labelExpr": "datum.value == 'g1' ? ['LY341495,', '1 mg/kg'] : ['LY341495 +', 'XA, 60 mg/kg']"}},
        "xOffset": {"field": "p", "type": "nominal", "scale": {"paddingInner": 0, "paddingOuter": 0}},
        "y": {"field": "v", "type": "quantitative", "scale": {"domain": [0, 25000], "nice": false}, "axis": {"values": [0,5000,10000,15000,20000,25000], "title": "Total distance traveled (cm)", "titleFontSize": 11.5, "titlePadding": 8, "tickSize": 3}},
        "fill": {"field": "p", "type": "nominal", "scale": {"range": ["black", "#9a9a9a"]}, "legend": {"title": null, "orient": "none", "legendX": 127, "legendY": -24, "labelFontSize": 10, "symbolType": "M-1,-0.4L1,-0.4L1,0.4L-1,0.4Z", "symbolSize": 100, "symbolStrokeColor": "black", "symbolStrokeWidth": 1, "rowPadding": 0, "labelOffset": 4}}
       }},
      {"data": {"name": "barC"}, "mark": {"type": "rule", "color": "black", "strokeWidth": 1},
       "encoding": {"x": {"field": "g", "type": "nominal"}, "xOffset": {"field": "p", "type": "nominal"}, "y": {"field": "v", "type": "quantitative"}, "y2": {"field": "e"}}},
      {"data": {"name": "barC"}, "mark": {"type": "tick", "orient": "horizontal", "size": 8, "thickness": 1, "color": "black"},
       "encoding": {"x": {"field": "g", "type": "nominal"}, "xOffset": {"field": "p", "type": "nominal"}, "y": {"field": "e", "type": "quantitative"}}},
      {"data": {"name": "lineSpanBC"}, "mark": {"type": "rule", "color": "black", "strokeWidth": 1, "yOffset": 31, "xOffset": -31, "x2Offset": 26},
       "encoding": {"x": {"field": "g", "type": "nominal"}, "x2": {"field": "g2"}, "y": {"datum": 0}}}
     ]
    }
   ]
  }
 ]
}
